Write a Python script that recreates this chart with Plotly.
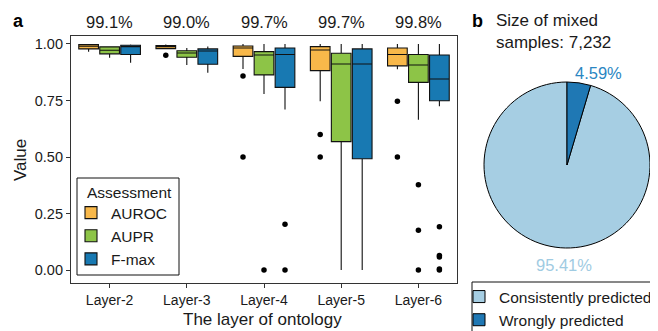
import plotly.graph_objects as go

# page body keeps the browser's default 8px margin, so the figure is drawn 8px in
PAGE_W, PAGE_H, BODY = 658, 331, 8
W, H = PAGE_W - BODY, PAGE_H - BODY

layers = ["Layer-2", "Layer-3", "Layer-4", "Layer-5", "Layer-6"]
accuracy_labels = ["99.1%", "99.0%", "99.7%", "99.7%", "99.8%"]

metrics = ["AUROC", "AUPR", "F-max"]
colors = {"AUROC": "#F8B84A", "AUPR": "#8DC447", "F-max": "#1879B2"}

auroc_q1 = [0.978, 0.979, 0.945, 0.882, 0.903]
auroc_med = [0.990, 0.988, 0.982, 0.973, 0.953]
auroc_q3 = [0.997, 0.993, 0.991, 0.988, 0.982]
auroc_lo = [0.965, 0.979, 0.889, 0.746, 0.888]
auroc_hi = [1.0, 0.997, 1.0, 1.0, 1.0]
auroc_out = [[], [0.950], [0.858, 0.500], [0.599, 0.500], [0.746, 0.500]]

aupr_q1 = [0.956, 0.941, 0.863, 0.568, 0.830]
aupr_med = [0.972, 0.960, 0.951, 0.911, 0.907]
aupr_q3 = [0.987, 0.970, 0.966, 0.959, 0.953]
aupr_lo = [0.939, 0.907, 0.779, 0.0, 0.665]
aupr_hi = [0.990, 0.982, 1.0, 1.0, 1.0]
aupr_out = [[], [], [0.0], [], [0.377, 0.176, 0.0]]

fmax_q1 = [0.953, 0.910, 0.808, 0.492, 0.749]
fmax_med = [0.988, 0.969, 0.953, 0.911, 0.845]
fmax_q3 = [0.994, 0.978, 0.982, 0.978, 0.951]
fmax_lo = [0.917, 0.872, 0.710, 0.0, 0.724]
fmax_hi = [0.997, 0.989, 1.0, 1.0, 1.0]
fmax_out = [[], [], [0.203, 0.0], [], [0.192, 0.065, 0.058, 0.005, 0.0]]

pie_labels = ["Consistently predicted", "Wrongly predicted"]
pie_values = [95.41, 4.59]
pie_colors = ["#A6CEE3", "#1F78B4"]
mixed_size = "7,232"

stats = {
    "AUROC": (auroc_q1, auroc_med, auroc_q3, auroc_lo, auroc_hi, auroc_out),
    "AUPR": (aupr_q1, aupr_med, aupr_q3, aupr_lo, aupr_hi, aupr_out),
    "F-max": (fmax_q1, fmax_med, fmax_q3, fmax_lo, fmax_hi, fmax_out),
}
offsets = {"AUROC": -0.272, "AUPR": 0.0, "F-max": 0.272}
box_w = 0.255

def px(x):
    return (x - BODY) / W

def py(y):
    return 1 - (y - BODY) / H

fig = go.Figure()
pos = list(range(1, len(layers) + 1))
for m in metrics:
    q1, med, q3, lo, hi, out = stats[m]
    xs = [p + offsets[m] for p in pos]
    fig.add_trace(go.Box(
        name=m, x=xs, q1=q1, median=med, q3=q3, lowerfence=lo, upperfence=hi,
        width=box_w, fillcolor=colors[m], line=dict(color="#111111", width=1.1),
        boxpoints=False, whiskerwidth=0, legend="legend", hoverinfo="skip",
    ))
for m in metrics:
    out = stats[m][5]
    ox, oy = [], []
    for p, vals in zip(pos, out):
        for v in vals:
            ox.append(p + offsets[m])
            oy.append(v)
    fig.add_trace(go.Scatter(x=ox, y=oy, mode="markers", showlegend=False,
                             marker=dict(color="black", size=5.5), hoverinfo="skip"))

# first slice (consistent) starts after the wrong share, so the wrong slice sits right of 12 o'clock
start_angle = 360.0 * pie_values[1] / sum(pie_values)
fig.add_trace(go.Pie(
    labels=pie_labels, values=pie_values, sort=False, direction="clockwise",
    rotation=start_angle, marker=dict(colors=pie_colors, line=dict(color="black", width=1)),
    textinfo="none", legend="legend2", hoverinfo="skip",
    domain=dict(x=[px(484), px(650)], y=[py(248), py(82)]),
))

font_family = "Liberation Sans, Arial, sans-serif"
fig.update_layout(
    width=W, height=H, margin=dict(l=0, r=0, t=0, b=0, autoexpand=False),
    paper_bgcolor="white", plot_bgcolor="white",
    font=dict(family=font_family, color="#1a1a1a"),
    boxmode="overlay",
    xaxis=dict(domain=[px(71), px(457)], range=[0.5, 5.5], tickvals=pos, ticktext=layers,
               showgrid=False, zeroline=False, showline=True, mirror=True,
               linecolor="#333333", linewidth=1.2, ticks="outside", ticklen=4,
               tickcolor="#333333", tickfont=dict(size=14, color="#1a1a1a"), automargin=False),
    yaxis=dict(domain=[py(283), py(36)], range=[-0.057, 1.035],
               tickvals=[0, 0.25, 0.5, 0.75, 1.0], ticktext=["0.00", "0.25", "0.50", "0.75", "1.00"],
               showgrid=False, zeroline=False, showline=True, mirror=True,
               linecolor="#333333", linewidth=1.2, ticks="outside", ticklen=4,
               tickcolor="#333333", tickfont=dict(size=14.5, color="#1a1a1a"), automargin=False),
    legend=dict(font=dict(size=15.5), x=px(71), y=py(196), xanchor="left", yanchor="top",
                borderwidth=0, bgcolor="rgba(0,0,0,0)", tracegroupgap=2),
    legend2=dict(font=dict(size=15.5), x=px(459), y=py(280), xanchor="left", yanchor="top",
                 borderwidth=0, bgcolor="rgba(0,0,0,0)"),
    shapes=[
        dict(type="rect", xref="paper", yref="paper", x0=px(77), x1=px(179), y0=py(275), y1=py(178),
             line=dict(color="#111111", width=1), fillcolor="white", layer="below"),
        dict(type="rect", xref="paper", yref="paper", x0=px(472), x1=px(662), y0=py(335), y1=py(282),
             line=dict(color="#111111", width=1), fillcolor="rgba(0,0,0,0)", layer="below"),
    ],
)

ann = []
for p, lab in zip(pos, accuracy_labels):
    ann.append(dict(x=p, y=py(22), xref="x", yref="paper", text=lab, showarrow=False,
                    font=dict(size=16.5), xanchor="center", yanchor="middle"))
ann.append(dict(x=px(85), y=py(192), xref="paper", yref="paper", text="Assessment", showarrow=False,
                font=dict(size=15.5), xanchor="left", yanchor="middle"))
ann.append(dict(x=px(18), y=py(21), xref="paper", yref="paper", text="<b>a</b>", showarrow=False,
                font=dict(size=18, color="black"), xanchor="center", yanchor="middle"))
ann.append(dict(x=px(477), y=py(21), xref="paper", yref="paper", text="<b>b</b>", showarrow=False,
                font=dict(size=18, color="black"), xanchor="center", yanchor="middle"))
ann.append(dict(x=px(494), y=py(32), xref="paper", yref="paper",
                text="Size of mixed<br>samples: " + mixed_size, showarrow=False, align="left",
                font=dict(size=17), xanchor="left", yanchor="middle"))
ann.append(dict(x=px(20), y=py(160), xref="paper", yref="paper", text="Value", textangle=-90,
                showarrow=False, font=dict(size=17), xanchor="center", yanchor="middle"))
ann.append(dict(x=px(262), y=py(319), xref="paper", yref="paper", text="The layer of ontology",
                showarrow=False, font=dict(size=17), xanchor="center", yanchor="middle"))
ann.append(dict(x=px(598), y=py(73), xref="paper", yref="paper", text=f"{pie_values[1]:.2f}%",
                showarrow=False, font=dict(size=16.5, color="#2A86C2"), xanchor="center", yanchor="middle"))
ann.append(dict(x=px(564), y=py(265), xref="paper", yref="paper", text=f"{pie_values[0]:.2f}%",
                showarrow=False, font=dict(size=16.5, color="#9FCBE2"), xanchor="center", yanchor="middle"))
fig.update_layout(annotations=ann)

fig.write_html("out.html")
